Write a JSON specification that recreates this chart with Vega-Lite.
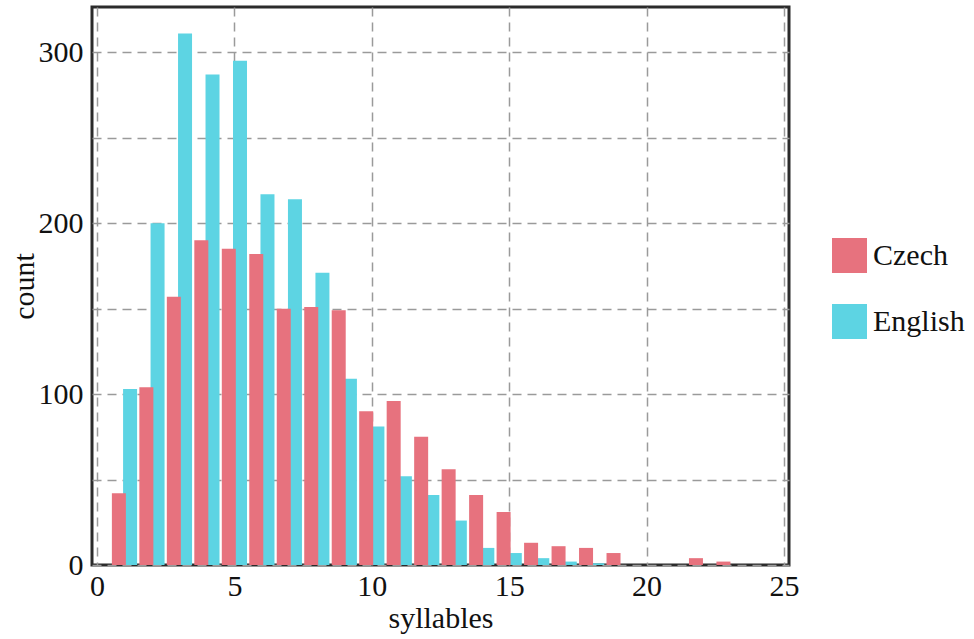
{
  "$schema": "https://vega.github.io/schema/vega-lite/v6.json",
  "width": 697,
  "height": 558,
  "autosize": {"type": "none"},
  "padding": {"left": 92, "top": 7, "right": 185, "bottom": 74},
  "background": "white",
  "config": {
    "font": "Liberation Serif",
    "view": {"stroke": "#2b2b2b", "strokeWidth": 3},
    "axis": {
      "domain": false,
      "ticks": false,
      "grid": true,
      "gridColor": "#9a9a9a",
      "gridDash": [9, 6],
      "gridWidth": 1.5,
      "labelFont": "Liberation Serif",
      "labelFontSize": 30,
      "labelColor": "#111",
      "titleFont": "Liberation Serif",
      "titleFontSize": 30,
      "titleFontWeight": "normal",
      "titleColor": "#111"
    }
  },
  "data": {
    "values": [
      {"syllables": 1, "language": "Czech", "count": 42},
      {"syllables": 2, "language": "Czech", "count": 104},
      {"syllables": 3, "language": "Czech", "count": 157},
      {"syllables": 4, "language": "Czech", "count": 190},
      {"syllables": 5, "language": "Czech", "count": 185},
      {"syllables": 6, "language": "Czech", "count": 182},
      {"syllables": 7, "language": "Czech", "count": 150},
      {"syllables": 8, "language": "Czech", "count": 151},
      {"syllables": 9, "language": "Czech", "count": 149},
      {"syllables": 10, "language": "Czech", "count": 90},
      {"syllables": 11, "language": "Czech", "count": 96},
      {"syllables": 12, "language": "Czech", "count": 75},
      {"syllables": 13, "language": "Czech", "count": 56},
      {"syllables": 14, "language": "Czech", "count": 41},
      {"syllables": 15, "language": "Czech", "count": 31},
      {"syllables": 16, "language": "Czech", "count": 13},
      {"syllables": 17, "language": "Czech", "count": 11},
      {"syllables": 18, "language": "Czech", "count": 10},
      {"syllables": 19, "language": "Czech", "count": 7},
      {"syllables": 22, "language": "Czech", "count": 4},
      {"syllables": 23, "language": "Czech", "count": 2},
      {"syllables": 1, "language": "English", "count": 103},
      {"syllables": 2, "language": "English", "count": 200},
      {"syllables": 3, "language": "English", "count": 311},
      {"syllables": 4, "language": "English", "count": 287},
      {"syllables": 5, "language": "English", "count": 295},
      {"syllables": 6, "language": "English", "count": 217},
      {"syllables": 7, "language": "English", "count": 214},
      {"syllables": 8, "language": "English", "count": 171},
      {"syllables": 9, "language": "English", "count": 109},
      {"syllables": 10, "language": "English", "count": 81},
      {"syllables": 11, "language": "English", "count": 52},
      {"syllables": 12, "language": "English", "count": 41},
      {"syllables": 13, "language": "English", "count": 26},
      {"syllables": 14, "language": "English", "count": 10},
      {"syllables": 15, "language": "English", "count": 7},
      {"syllables": 16, "language": "English", "count": 4},
      {"syllables": 17, "language": "English", "count": 2},
      {"syllables": 18, "language": "English", "count": 1}
    ]
  },
  "encoding": {
    "x": {
      "field": "syllables",
      "type": "quantitative",
      "title": "syllables",
      "scale": {"domain": [0, 25], "nice": false, "zero": false},
      "axis": {
        "values": [0, 5, 10, 15, 20, 25],
        "labelPadding": 6,
        "titleY": 62,
        "titleBaseline": "alphabetic"
      }
    },
    "y": {
      "field": "count",
      "type": "quantitative",
      "title": "count",
      "scale": {"domain": [0, 326.5], "nice": false},
      "axis": {
        "values": [0, 50, 100, 150, 200, 250, 300],
        "labelExpr": "datum.value % 100 === 0 ? datum.label : ''",
        "labelPadding": 9,
        "titleX": -59,
        "titleY": 279,
        "titleAngle": -90,
        "titleAlign": "center",
        "titleBaseline": "alphabetic"
      }
    },
    "color": {
      "field": "language",
      "type": "nominal",
      "scale": {"domain": ["Czech", "English"], "range": ["#e7727e", "#5dd4e3"]},
      "legend": {
        "title": null,
        "orient": "none",
        "legendX": 740,
        "legendY": 231,
        "symbolType": "square",
        "symbolSize": 1225,
        "symbolStrokeWidth": 0,
        "symbolOpacity": 1,
        "rowPadding": 31,
        "labelOffset": 6,
        "labelFont": "Liberation Serif",
        "labelFontSize": 30,
        "labelColor": "#111"
      }
    }
  },
  "layer": [
    {
      "transform": [{"filter": "datum.language === 'English'"}],
      "mark": {"type": "bar", "width": 14, "xOffset": 5.6}
    },
    {
      "transform": [{"filter": "datum.language === 'Czech'"}],
      "mark": {"type": "bar", "width": 14, "xOffset": -5.6}
    }
  ]
}
